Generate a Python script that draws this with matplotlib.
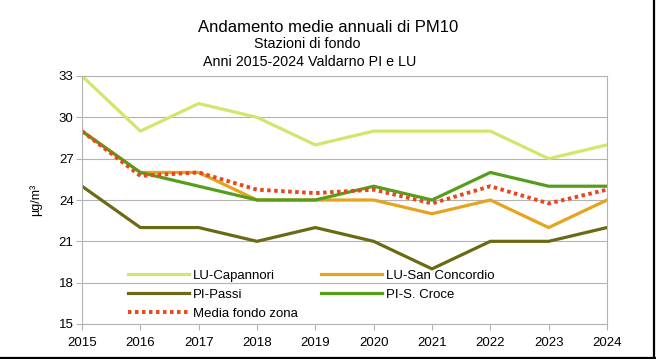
import matplotlib
matplotlib.use('Agg')
import matplotlib.pyplot as plt
from matplotlib.lines import Line2D

plt.rcParams['font.family'] = ['Liberation Sans', 'DejaVu Sans']

years = [2015, 2016, 2017, 2018, 2019, 2020, 2021, 2022, 2023, 2024]
capannori = [33, 29, 31, 30, 28, 29, 29, 29, 27, 28]
san_concordio = [29, 26, 26, 24, 24, 24, 23, 24, 22, 24]
passi = [25, 22, 22, 21, 22, 21, 19, 21, 21, 22]
s_croce = [29, 26, 25, 24, 24, 25, 24, 26, 25, 25]
media = [29, 25.75, 26, 24.75, 24.5, 24.75, 23.75, 25, 23.75, 24.75]
y_ticks = [15, 18, 21, 24, 27, 30, 33]

fig = plt.figure(figsize=(6.56, 3.59), dpi=100)
ax = fig.add_axes([82 / 656, 1 - 324 / 359, (607 - 82) / 656, (324 - 76) / 359])

lw = 2.3
l_cap, = ax.plot(years, capannori, color='#d4e56b', lw=lw, label='LU-Capannori')
l_sc, = ax.plot(years, san_concordio, color='#e6a31c', lw=lw, label='LU-San Concordio')
l_pas, = ax.plot(years, passi, color='#6b6a14', lw=lw, label='PI-Passi')
l_cro, = ax.plot(years, s_croce, color='#579d1c', lw=lw, label='PI-S. Croce')
l_med, = ax.plot(years, media, color='#e8461c', lw=2.8, ls=(0, (0.9, 0.9)),
                 label='Media fondo zona')

ax.set_xlim(2015, 2024)
ax.set_ylim(15, 33)
ax.set_xticks(years)
ax.set_yticks(y_ticks)
ax.tick_params(labelsize=9.5, color='#b3b3b3', length=4, width=0.8)
ax.tick_params(axis='x', pad=5)
ax.tick_params(axis='y', pad=2)
ax.grid(axis='y', color='#b3b3b3', lw=0.8)
ax.set_axisbelow(True)
for s in ax.spines.values():
    s.set_color('#b3b3b3')
    s.set_linewidth(0.8)
ax.set_ylabel('µg/m³', fontsize=9, labelpad=12)

handles = [l_cap, l_pas, l_med, l_sc, l_cro]
ax.legend(handles=handles, ncol=2, loc='lower left', bbox_to_anchor=(0.07, -0.02),
          frameon=False, fontsize=9.5, handlelength=4.6, handletextpad=0.3,
          columnspacing=1.8, labelspacing=0.5, borderaxespad=0.3)

fig.text(328 / 656, 1 - 27 / 359, 'Andamento medie annuali di PM10', ha='center',
         va='center', fontsize=12)
fig.text(307 / 656, 1 - 44 / 359, 'Stazioni di fondo', ha='center',
         va='center', fontsize=10.3)
fig.text(310 / 656, 1 - 62 / 359, 'Anni 2015-2024 Valdarno PI e LU', ha='center',
         va='center', fontsize=10.3)

# black border on right and bottom edges
fig.add_artist(Line2D([0, 1], [0.003, 0.003], color='black', lw=1.6,
                      transform=fig.transFigure))
fig.add_artist(Line2D([0.997, 0.997], [0, 1], color='black', lw=1.6,
                      transform=fig.transFigure))

fig.savefig('out.png', dpi=100)
